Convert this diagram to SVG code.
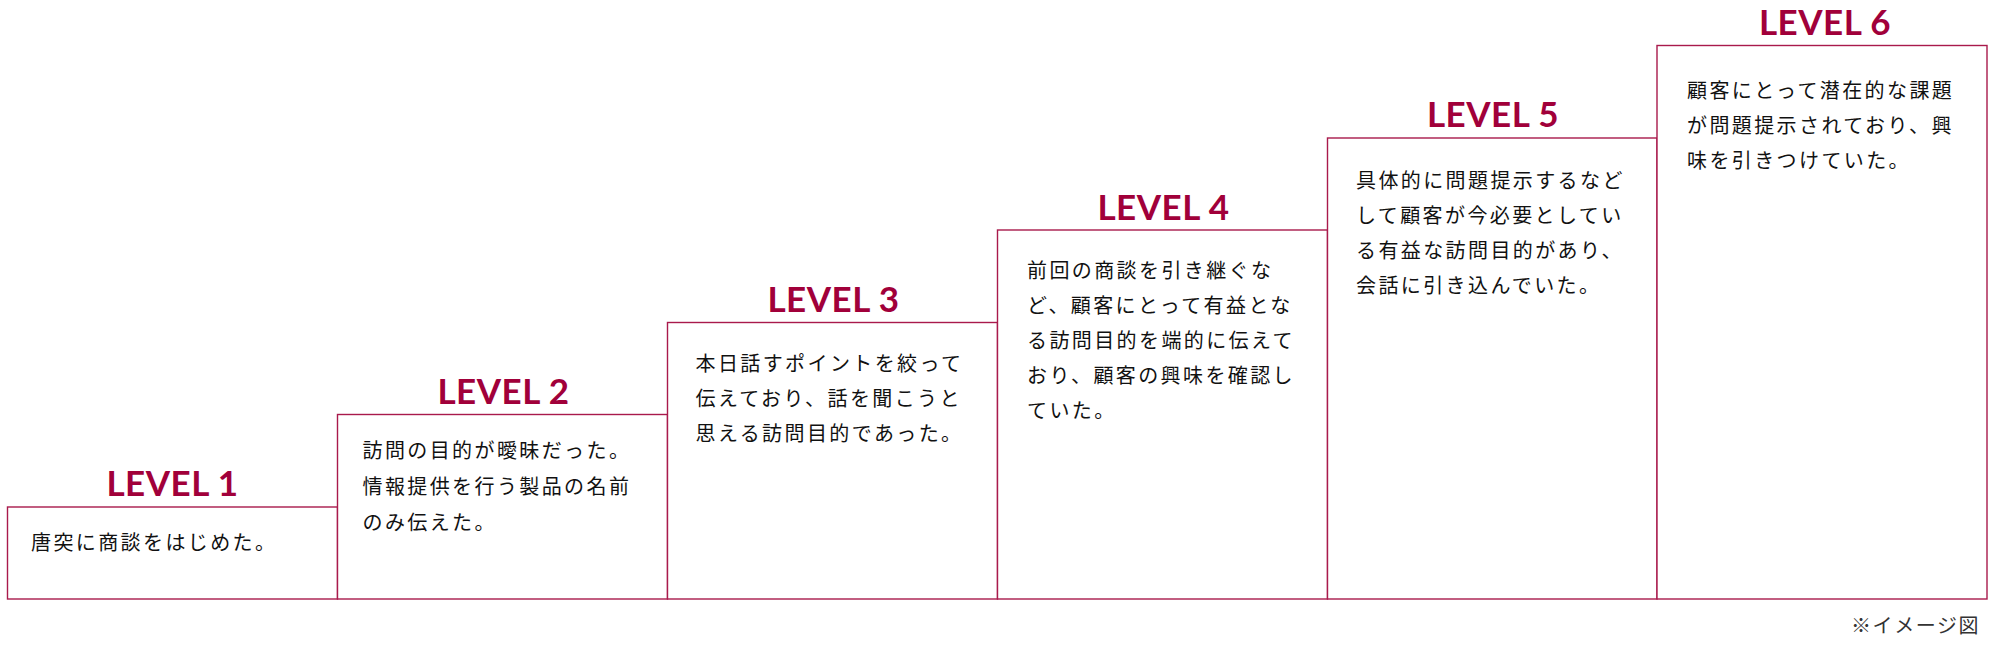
<svg xmlns="http://www.w3.org/2000/svg" width="1994" height="654" viewBox="0 0 1994 654">
<style>
.box{fill:#ffffff;stroke:#a91a4c;stroke-width:1.4}
.lvl{font-family:Lato,"Liberation Sans",sans-serif;font-weight:700;font-size:35px;fill:#a1003a;text-anchor:middle;letter-spacing:0.5px}
.body{font-family:"Noto Sans CJK JP","Noto Sans",sans-serif;font-size:20px;fill:#111111;letter-spacing:2.4px}
.note{font-family:"Noto Sans CJK JP","Noto Sans",sans-serif;font-size:20px;fill:#333333;letter-spacing:1.6px}
</style>
<rect width="1994" height="654" fill="#ffffff"/>
<g id="level1">
<rect class="box" x="7.5" y="507" width="330" height="92"/>
<text class="lvl" x="172.5" y="496">LEVEL 1</text>
<text class="body" x="31" y="549.5">唐突に商談をはじめた。</text>
</g>
<g id="level2">
<rect class="box" x="337.5" y="414.5" width="330" height="184.5"/>
<text class="lvl" x="503.5" y="403.5">LEVEL 2</text>
<text class="body" x="362.5" y="457.5">訪問の目的が曖昧だった。</text>
<text class="body" x="362.5" y="493.5">情報提供を行う製品の名前</text>
<text class="body" x="362.5" y="529.5">のみ伝えた。</text>
</g>
<g id="level3">
<rect class="box" x="667.5" y="322.5" width="330" height="276.5"/>
<text class="lvl" x="833.5" y="312">LEVEL 3</text>
<text class="body" x="695.5" y="371">本日話すポイントを絞って</text>
<text class="body" x="695.5" y="406">伝えており、話を聞こうと</text>
<text class="body" x="695.5" y="441">思える訪問目的であった。</text>
</g>
<g id="level4">
<rect class="box" x="997.5" y="230" width="330" height="369"/>
<text class="lvl" x="1163.5" y="219.5">LEVEL 4</text>
<text class="body" x="1027" y="277.5">前回の商談を引き継ぐな</text>
<text class="body" x="1027" y="312.5">ど、顧客にとって有益とな</text>
<text class="body" x="1027" y="347.5">る訪問目的を端的に伝えて</text>
<text class="body" x="1027" y="382.5">おり、顧客の興味を確認し</text>
<text class="body" x="1027" y="417.5">ていた。</text>
</g>
<g id="level5">
<rect class="box" x="1327.5" y="138" width="329.5" height="461"/>
<text class="lvl" x="1493" y="127">LEVEL 5</text>
<text class="body" x="1356" y="187.5">具体的に問題提示するなど</text>
<text class="body" x="1356" y="222.5">して顧客が今必要としてい</text>
<text class="body" x="1356" y="257.5">る有益な訪問目的があり、</text>
<text class="body" x="1356" y="292.5">会話に引き込んでいた。</text>
</g>
<g id="level6">
<rect class="box" x="1657" y="45.5" width="330" height="553.5"/>
<text class="lvl" x="1825" y="35">LEVEL 6</text>
<text class="body" x="1687" y="97.5">顧客にとって潜在的な課題</text>
<text class="body" x="1687" y="132.5">が問題提示されており、興</text>
<text class="body" x="1687" y="167.5">味を引きつけていた。</text>
</g>
<g id="connectors"></g>
<text class="note" x="1851" y="633">※イメージ図</text>
</svg>
